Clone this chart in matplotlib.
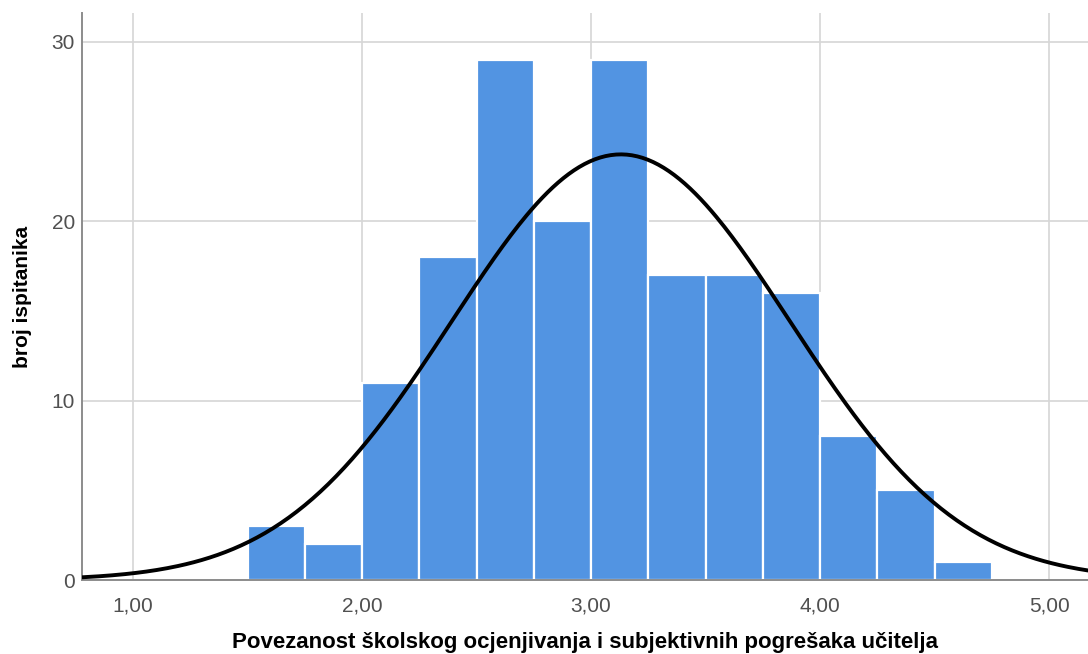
import numpy as np
import matplotlib.pyplot as plt

plt.rcParams['font.family'] = ['Liberation Sans', 'DejaVu Sans']

# --- Data ---
bin_edges = [1.50, 1.75, 2.00, 2.25, 2.50, 2.75, 3.00, 3.25, 3.50, 3.75, 4.00, 4.25, 4.50, 4.75]
counts = [3, 2, 11, 18, 29, 20, 29, 17, 17, 16, 8, 5, 1]
curve_mean = 3.13
curve_sd = 0.74
x_ticks = [1, 2, 3, 4, 5]
x_tick_labels = ['1,00', '2,00', '3,00', '4,00', '5,00']
y_ticks = [0, 10, 20, 30]

fig = plt.figure(figsize=(10.88, 6.54), dpi=100)
ax = fig.add_axes([82 / 1088, 74 / 654, 1 - 82 / 1088, (580 - 13) / 654])

edges = np.array(bin_edges)
widths = np.diff(edges)
ax.bar(edges[:-1], counts, width=widths, align='edge', color='#5294e2',
       edgecolor='white', linewidth=1.6, zorder=2)

# --- Normal curve scaled to the histogram ---
n = sum(counts)
bw = widths[0]
xs = np.linspace(0.7, 5.3, 400)
ys = n * bw * np.exp(-0.5 * ((xs - curve_mean) / curve_sd) ** 2) / (curve_sd * np.sqrt(2 * np.pi))
ax.plot(xs, ys, color='black', linewidth=2.8, zorder=3)

ax.set_xlim(0.777, 5.17)
ax.set_ylim(0, 31.6)
ax.set_xticks(x_ticks)
ax.set_xticklabels(x_tick_labels)
ax.set_yticks(y_ticks)
ax.tick_params(axis='both', length=0, labelsize=15, labelcolor='#505050')
ax.tick_params(axis='x', pad=12)
ax.tick_params(axis='y', pad=5)

ax.grid(True, color='#d6d6d6', linewidth=1.2, zorder=0)
ax.set_axisbelow(True)
for side in ['top', 'right']:
    ax.spines[side].set_visible(False)
for side in ['left', 'bottom']:
    ax.spines[side].set_color('#8c8c8c')
    ax.spines[side].set_linewidth(1.4)

ax.set_xlabel('Povezanost školskog ocjenjivanja i subjektivnih pogrešaka učitelja',
              fontsize=16, fontweight='bold', labelpad=12)
ax.set_ylabel('broj ispitanika', fontsize=15, fontweight='bold', labelpad=14)

fig.savefig('out.png', dpi=100)
